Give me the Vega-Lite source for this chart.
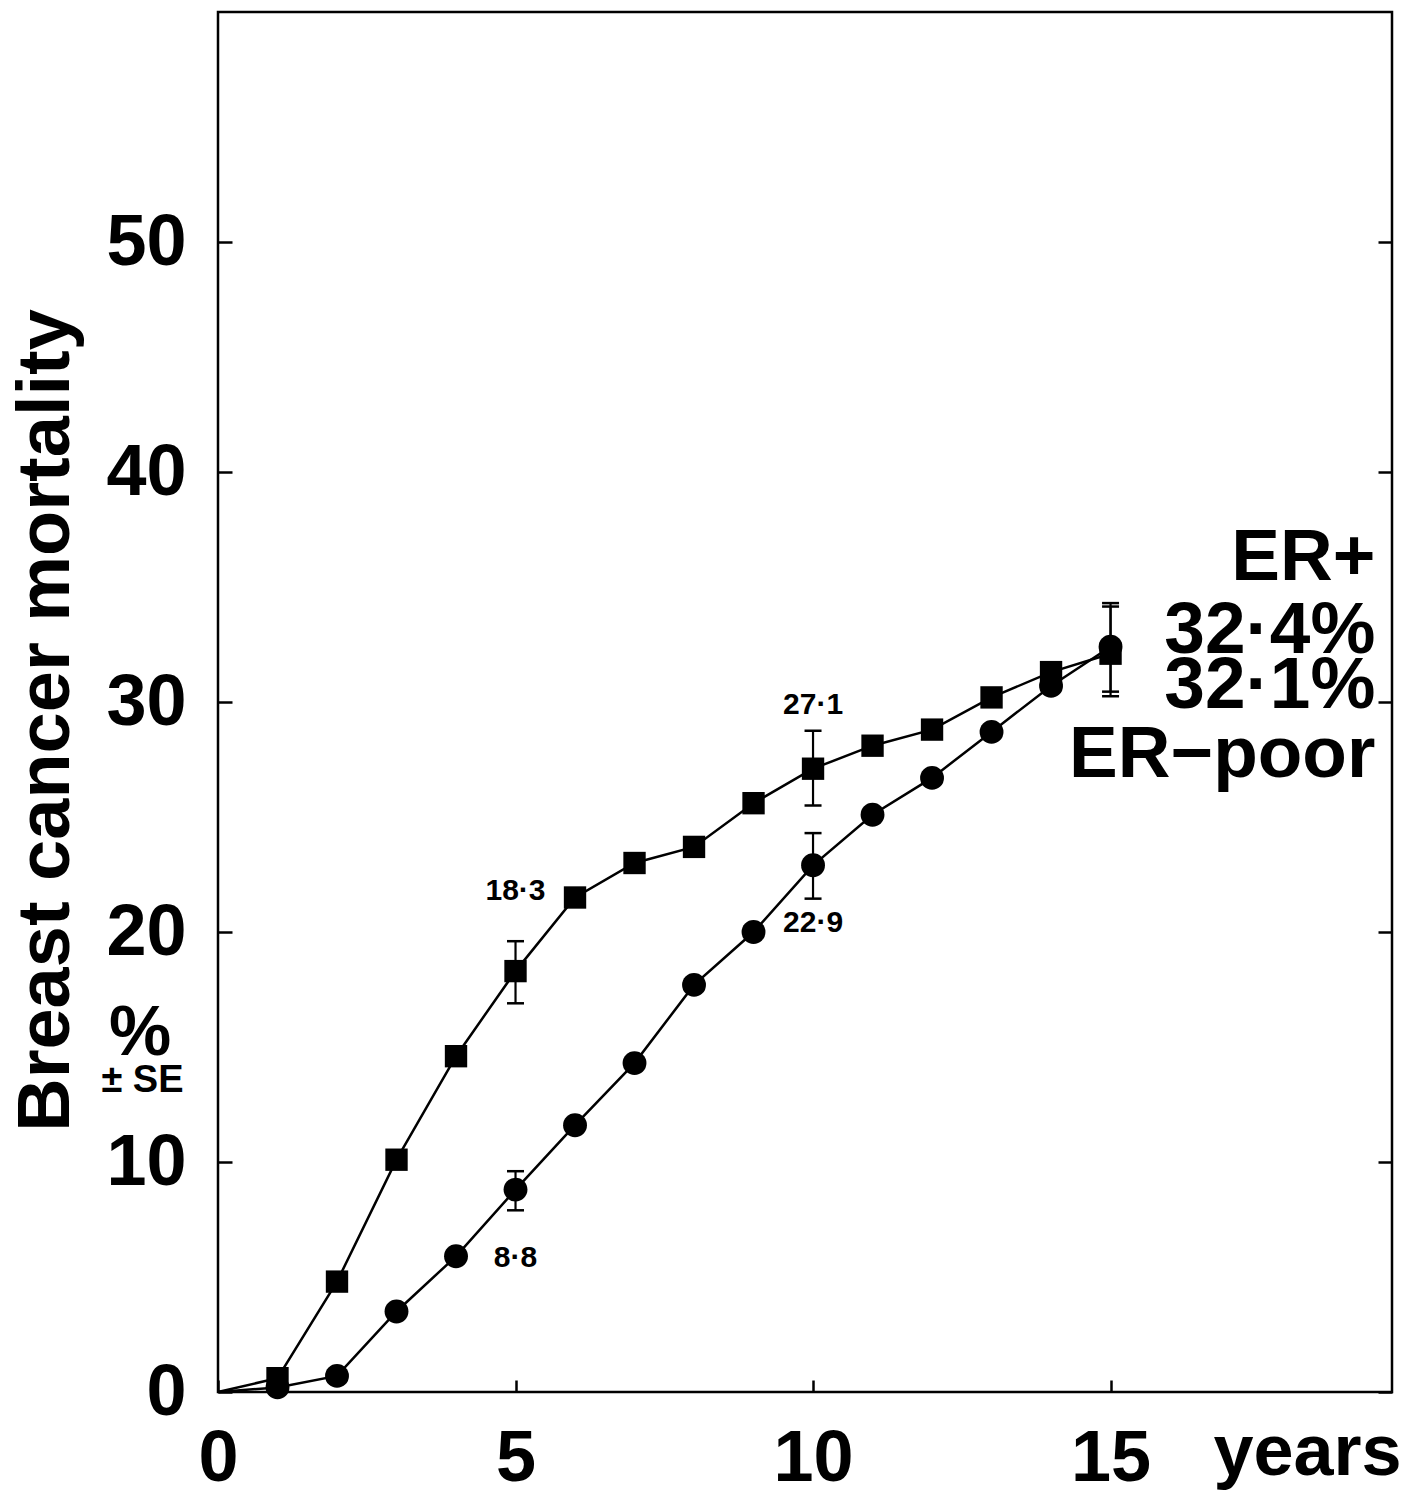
{
  "$schema": "https://vega.github.io/schema/vega-lite/v6.json",
  "width": 1174,
  "height": 1380,
  "autosize": {"type": "none"},
  "padding": {"left": 218, "top": 12, "right": 33, "bottom": 103},
  "background": "white",
  "config": {
    "font": "Liberation Sans",
    "view": {"stroke": "black", "strokeWidth": 2.5},
    "axis": {
      "domain": false,
      "grid": false,
      "labelColor": "black",
      "labelFontWeight": "bold",
      "labelFont": "Liberation Sans",
      "labelFontSize": 72,
      "labelOverlap": false,
      "labelFlush": false,
      "tickColor": "black",
      "tickWidth": 2.5,
      "titleColor": "black",
      "titleFont": "Liberation Sans",
      "titleFontWeight": "bold"
    }
  },
  "datasets": {
    "series": [
      {"group": "ER-poor", "year": 0, "mortality": 0},
      {"group": "ER-poor", "year": 1, "mortality": 0.6},
      {"group": "ER-poor", "year": 2, "mortality": 4.8},
      {"group": "ER-poor", "year": 3, "mortality": 10.1},
      {"group": "ER-poor", "year": 4, "mortality": 14.6},
      {"group": "ER-poor", "year": 5, "mortality": 18.3},
      {"group": "ER-poor", "year": 6, "mortality": 21.5},
      {"group": "ER-poor", "year": 7, "mortality": 23.0},
      {"group": "ER-poor", "year": 8, "mortality": 23.7},
      {"group": "ER-poor", "year": 9, "mortality": 25.6},
      {"group": "ER-poor", "year": 10, "mortality": 27.1},
      {"group": "ER-poor", "year": 11, "mortality": 28.1},
      {"group": "ER-poor", "year": 12, "mortality": 28.8},
      {"group": "ER-poor", "year": 13, "mortality": 30.2},
      {"group": "ER-poor", "year": 14, "mortality": 31.3},
      {"group": "ER-poor", "year": 15, "mortality": 32.1},
      {"group": "ER+", "year": 0, "mortality": 0},
      {"group": "ER+", "year": 1, "mortality": 0.2},
      {"group": "ER+", "year": 2, "mortality": 0.7},
      {"group": "ER+", "year": 3, "mortality": 3.5},
      {"group": "ER+", "year": 4, "mortality": 5.9},
      {"group": "ER+", "year": 5, "mortality": 8.8},
      {"group": "ER+", "year": 6, "mortality": 11.6},
      {"group": "ER+", "year": 7, "mortality": 14.3},
      {"group": "ER+", "year": 8, "mortality": 17.7},
      {"group": "ER+", "year": 9, "mortality": 20.0},
      {"group": "ER+", "year": 10, "mortality": 22.9},
      {"group": "ER+", "year": 11, "mortality": 25.1},
      {"group": "ER+", "year": 12, "mortality": 26.7},
      {"group": "ER+", "year": 13, "mortality": 28.7},
      {"group": "ER+", "year": 14, "mortality": 30.7},
      {"group": "ER+", "year": 15, "mortality": 32.4}
    ],
    "errors": [
      {"group": "ER-poor", "year": 5, "lo": 16.9, "hi": 19.6},
      {"group": "ER-poor", "year": 10, "lo": 25.5, "hi": 28.75},
      {"group": "ER-poor", "year": 15, "lo": 30.25, "hi": 34.15},
      {"group": "ER+", "year": 5, "lo": 7.9, "hi": 9.6},
      {"group": "ER+", "year": 10, "lo": 21.45, "hi": 24.3},
      {"group": "ER+", "year": 15, "lo": 30.45, "hi": 34.3}
    ],
    "smallLabels": [
      {"year": 5, "value": 21.4, "label": "18·3"},
      {"year": 10, "value": 29.5, "label": "27·1"},
      {"year": 10, "value": 20.0, "label": "22·9"},
      {"year": 5, "value": 5.45, "label": "8·8"}
    ],
    "endLabels": [
      {"year": 19.45, "value": 35.3, "label": "ER+"},
      {"year": 19.45, "value": 32.13, "label": "32·4%"},
      {"year": 19.45, "value": 29.74, "label": "32·1%"},
      {"year": 19.45, "value": 26.74, "label": "ER−poor"}
    ],
    "unitLabel": [{"year": -1.31, "value": 14.65, "label": "%"}],
    "seLabel": [{"year": -1.27, "value": 13.04, "label": "± SE"}]
  },
  "resolve": {"axis": {"y": "independent"}},
  "layer": [
    {
      "data": {"name": "series"},
      "mark": {"type": "line", "color": "black", "strokeWidth": 2.5},
      "encoding": {
        "x": {
          "field": "year", "type": "quantitative",
          "scale": {"domain": [0, 19.73], "nice": false, "zero": false},
          "axis": {
            "values": [0, 5, 10, 15],
            "format": "d",
            "tickSize": -12,
            "labelPadding": 43,
            "title": "years",
            "titleFontSize": 72,
            "titleX": 1089,
            "titleY": 82,
            "titleBaseline": "alphabetic",
            "titleAlign": "center",
            "titleAnchor": null
          }
        },
        "y": {
          "field": "mortality", "type": "quantitative",
          "scale": {"domain": [0, 60], "nice": false},
          "axis": {
            "orient": "left",
            "values": [0, 10, 20, 30, 40, 50],
            "format": "d",
            "tickSize": -14,
            "labelPadding": 46,
            "title": "Breast cancer mortality",
            "titleFontSize": 74,
            "titleAngle": -90,
            "titleX": -150,
            "titleY": 708,
            "titleBaseline": "alphabetic",
            "titleAlign": "center",
            "titleAnchor": null
          }
        },
        "detail": {"field": "group"}
      }
    },
    {
      "data": {"name": "errors"},
      "mark": {"type": "rule", "color": "black", "strokeWidth": 2.2, "opacity": 1},
      "encoding": {
        "x": {"field": "year", "type": "quantitative"},
        "y": {
          "field": "lo", "type": "quantitative",
          "axis": {
            "orient": "right",
            "values": [0, 10, 20, 30, 40, 50],
            "tickSize": -14,
            "labels": false,
            "title": null
          }
        },
        "y2": {"field": "hi"}
      }
    },
    {
      "data": {"name": "errors"},
      "mark": {"type": "tick", "orient": "horizontal", "color": "black", "opacity": 1, "size": 17, "thickness": 2.5},
      "encoding": {
        "x": {"field": "year", "type": "quantitative"},
        "y": {"field": "lo", "type": "quantitative", "axis": null}
      }
    },
    {
      "data": {"name": "errors"},
      "mark": {"type": "tick", "orient": "horizontal", "color": "black", "opacity": 1, "size": 17, "thickness": 2.5},
      "encoding": {
        "x": {"field": "year", "type": "quantitative"},
        "y": {"field": "hi", "type": "quantitative", "axis": null}
      }
    },
    {
      "data": {"name": "series"},
      "transform": [{"filter": "datum.year > 0 && datum.group == 'ER-poor'"}],
      "mark": {"type": "point", "shape": "square", "filled": true, "color": "black", "opacity": 1, "size": 500},
      "encoding": {
        "x": {"field": "year", "type": "quantitative"},
        "y": {"field": "mortality", "type": "quantitative", "axis": null}
      }
    },
    {
      "data": {"name": "series"},
      "transform": [{"filter": "datum.year > 0 && datum.group == 'ER+'"}],
      "mark": {"type": "point", "shape": "circle", "filled": true, "color": "black", "opacity": 1, "size": 570},
      "encoding": {
        "x": {"field": "year", "type": "quantitative"},
        "y": {"field": "mortality", "type": "quantitative", "axis": null}
      }
    },
    {
      "data": {"name": "smallLabels"},
      "mark": {"type": "text", "font": "Liberation Sans", "fontWeight": "bold", "fontSize": 30, "align": "center", "baseline": "alphabetic", "color": "black"},
      "encoding": {
        "x": {"field": "year", "type": "quantitative"},
        "y": {"field": "value", "type": "quantitative", "axis": null},
        "text": {"field": "label"}
      }
    },
    {
      "data": {"name": "endLabels"},
      "mark": {"type": "text", "font": "Liberation Sans", "fontWeight": "bold", "fontSize": 73, "align": "right", "baseline": "alphabetic", "color": "black"},
      "encoding": {
        "x": {"field": "year", "type": "quantitative"},
        "y": {"field": "value", "type": "quantitative", "axis": null},
        "text": {"field": "label"}
      }
    },
    {
      "data": {"name": "unitLabel"},
      "mark": {"type": "text", "font": "Liberation Sans", "fontWeight": "bold", "fontSize": 70, "align": "center", "baseline": "alphabetic", "color": "black"},
      "encoding": {
        "x": {"field": "year", "type": "quantitative"},
        "y": {"field": "value", "type": "quantitative", "axis": null},
        "text": {"field": "label"}
      }
    },
    {
      "data": {"name": "seLabel"},
      "mark": {"type": "text", "font": "Liberation Sans", "fontWeight": "bold", "fontSize": 38, "align": "center", "baseline": "alphabetic", "color": "black"},
      "encoding": {
        "x": {"field": "year", "type": "quantitative"},
        "y": {"field": "value", "type": "quantitative", "axis": null},
        "text": {"field": "label"}
      }
    }
  ]
}
